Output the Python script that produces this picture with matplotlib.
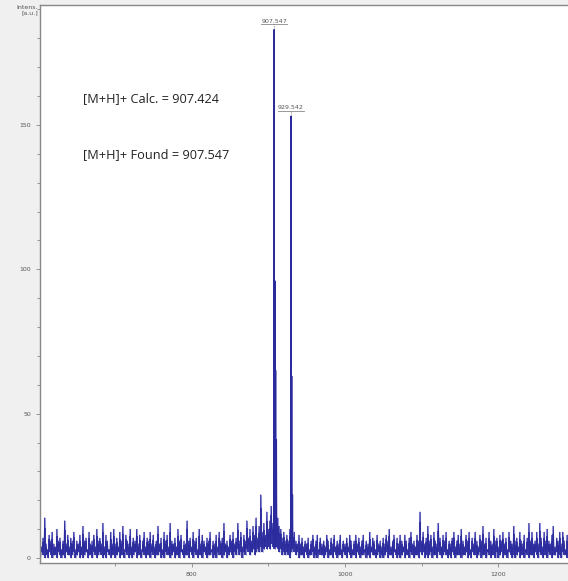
import numpy as np
import matplotlib
matplotlib.use('Agg')
import matplotlib.pyplot as plt
from matplotlib.ticker import MultipleLocator

# baseline noise, one max/min pair every 2 Da starting at m/z 600
noise = [
    6, 9, 4, 7, 14, 5, 3, 8, 6, 9, 5, 4, 10, 6, 7, 3, 6, 13, 5, 8, 4, 7, 6, 9, 3,
    6, 5, 8, 4, 11, 6, 7, 3, 9, 5, 6, 8, 4, 10, 6, 7, 5, 12, 4, 8, 6, 3, 9, 5, 10,
    5, 7, 4, 9, 6, 11, 3, 8, 6, 5, 10, 4, 7, 6, 10, 5, 8, 3, 6, 9, 4, 7, 6, 9, 5,
    8, 4, 6, 11, 5, 7, 3, 9, 6, 8, 4, 12, 6, 5, 7, 4, 10, 6, 8, 3, 6, 5, 13, 6, 7,
    4, 9, 6, 7, 3, 10, 5, 8, 6, 4, 7, 6, 9, 3, 6, 5, 8, 4, 9, 6, 7, 12, 5, 6, 4,
    8, 6, 9, 5, 7, 12, 6, 9, 4, 8, 6, 13, 7, 10, 6, 11, 8, 14, 7, 11, 22, 9, 12, 8, 16,
    10, 13, 18, 12, 9, 12, 14, 11, 10, 7, 9, 6, 8, 6, 10, 8, 7, 9, 6, 5, 8, 5, 7, 4, 6,
    5, 7, 3, 6, 8, 4, 6, 8, 3, 7, 5, 6, 4, 8, 6, 3, 7, 5, 8, 4, 6, 5, 8, 3, 6,
    5, 7, 4, 8, 6, 3, 6, 8, 5, 7, 4, 6, 8, 3, 6, 5, 9, 4, 7, 6, 3, 8, 5, 6, 4,
    7, 5, 8, 6, 10, 4, 6, 8, 3, 7, 5, 8, 6, 4, 8, 6, 3, 7, 9, 5, 6, 4, 8, 6, 16,
    6, 9, 5, 7, 11, 6, 8, 4, 9, 6, 5, 12, 7, 4, 8, 6, 9, 3, 6, 5, 7, 9, 4, 6, 8,
    5, 10, 6, 4, 8, 6, 9, 3, 7, 5, 9, 6, 4, 8, 6, 11, 5, 7, 3, 9, 6, 5, 10, 6, 7,
    4, 8, 6, 9, 5, 7, 3, 9, 6, 5, 11, 6, 7, 4, 9, 6, 5, 8, 3, 7, 12, 6, 9, 5, 6,
    9, 5, 12, 7, 4, 9, 6, 10, 6, 5, 8, 11, 4, 7, 6, 9, 5, 9, 6, 3, 8, 6, 7, 5, 9,
]
noise_low = [
    1, 0, 2, 1, 0, 1, 0, 2, 1, 0, 1, 1, 0, 2, 1, 0, 1, 0, 2, 1, 1, 0, 1, 2, 0,
    1, 2, 0, 1, 0, 1, 2, 0, 1, 1, 0, 2, 1, 0, 1, 2, 1, 0, 1, 0, 2, 1, 0, 1, 1,
    0, 1, 2, 0, 1, 1, 0, 2, 1, 0, 1, 0, 1, 2, 0, 1, 1, 0, 2, 1, 0, 1, 1, 0, 2,
    1, 0, 1, 1, 2, 0, 1, 0, 2, 1, 1, 0, 1, 2, 0, 1, 1, 0, 2, 1, 0, 1, 1, 0, 2,
    1, 0, 2, 1, 0, 1, 1, 0, 2, 1, 0, 1, 1, 2, 0, 1, 0, 2, 1, 1, 0, 1, 2, 0, 1,
    2, 1, 0, 2, 1, 3, 1, 2, 0, 2, 1, 3, 2, 1, 2, 3, 1, 2, 3, 2, 4, 2, 3, 4, 3,
    4, 3, 5, 4, 3, 4, 3, 2, 3, 1, 2, 1, 2, 1, 0, 2, 3, 2, 1, 2, 0, 1, 1, 0, 2,
    1, 0, 1, 1, 2, 0, 1, 0, 2, 1, 1, 0, 1, 2, 0, 1, 1, 0, 2, 1, 0, 1, 1, 0, 2,
    1, 0, 2, 1, 0, 1, 1, 0, 2, 1, 0, 1, 1, 2, 0, 1, 0, 2, 1, 1, 0, 1, 2, 0, 1,
    0, 1, 2, 0, 1, 1, 0, 2, 1, 0, 1, 0, 1, 2, 0, 1, 1, 0, 2, 1, 0, 1, 1, 0, 2,
    1, 2, 0, 1, 0, 1, 2, 0, 1, 1, 0, 2, 1, 0, 1, 2, 1, 0, 1, 0, 2, 1, 0, 1, 1,
    1, 0, 1, 1, 2, 0, 1, 0, 2, 1, 1, 0, 1, 2, 0, 1, 1, 0, 2, 1, 0, 1, 1, 0, 2,
    0, 1, 2, 0, 1, 1, 0, 2, 1, 0, 1, 0, 1, 2, 0, 1, 1, 0, 2, 1, 0, 1, 1, 0, 2,
    1, 0, 2, 1, 0, 1, 1, 0, 2, 1, 0, 1, 1, 2, 0, 1, 0, 2, 1, 1, 0, 1, 2, 0, 1,
]
noise_mz = 600 + 2 * np.arange(len(noise))

# isotope peaks
peak_mz = [907.5, 908.5, 909.5, 910.5, 929.5, 930.5, 931.5]
peak_int = [183, 96, 65, 41, 153, 63, 22]

# labelled peaks
label_mz = [907.547, 929.542]
label_int = [183, 153]

fig = plt.figure(figsize=(5.68, 5.81), dpi=100)
fig.set_facecolor('#f0f0f0')
ax = fig.add_axes([40 / 568, 1 - 563 / 581, 1 - 40 / 568, 558 / 581])
ax.set_facecolor('white')

blue = '#2b2b9e'
hi = np.array(noise, dtype=float)
lo = np.array(noise_low, dtype=float)
ax.vlines(noise_mz, lo, hi, color='#9898d8', lw=1.5)
ax.vlines(noise_mz, lo, lo + 0.75 * (hi - lo), color=blue, lw=1.2)
zig_x = np.ravel(np.column_stack([noise_mz, noise_mz + 1]))
zig_y = np.ravel(np.column_stack([hi, lo]))
ax.plot(zig_x, zig_y, color=blue, lw=0.5)
for mz, h in zip(peak_mz, peak_int):
    ax.plot([mz - 0.45, mz, mz + 0.45], [4, h, 4], color=blue, lw=0.9)

for mz, h in zip(label_mz, label_int):
    ax.plot([mz, mz], [h + 0.3, h + 1.8], color='#555555', lw=0.6, ls=':')
    ax.plot([mz - 17, mz + 17], [h + 1.8, h + 1.8], color='#888888', lw=0.6)
    ax.text(mz, h + 2.0, f'{mz:.3f}', fontsize=4.5, color='#555555',
            ha='center', va='bottom')

ax.text(658, 159, '[M+H]+ Calc. = 907.424', fontsize=9.2, family='Open Sans',
        color='#222222', va='center')
ax.text(658, 139.6, '[M+H]+ Found = 907.547', fontsize=9.2, family='Open Sans',
        color='#222222', va='center')

ax.set_xlim(602, 1291)
ax.set_ylim(-1.7, 191.5)
ax.xaxis.set_major_locator(MultipleLocator(200))
ax.xaxis.set_minor_locator(MultipleLocator(100))
ax.yaxis.set_major_locator(MultipleLocator(50))
ax.yaxis.set_minor_locator(MultipleLocator(10))
ax.tick_params(which='both', labelsize=4.5, labelcolor='#555555',
               color='#888888', width=0.6)
ax.tick_params(which='major', length=3)
ax.tick_params(which='minor', length=2)
for side in ['left', 'bottom', 'top']:
    ax.spines[side].set_color('#888888')
    ax.spines[side].set_linewidth(1.0)
ax.spines['right'].set_visible(False)

fig.text(38 / 568, 1 - 5 / 581, 'Intens.\n[a.u.]', fontsize=4.5,
         color='#555555', ha='right', va='top', linespacing=1.0)

plt.savefig('out.png', dpi=100, facecolor=fig.get_facecolor())
